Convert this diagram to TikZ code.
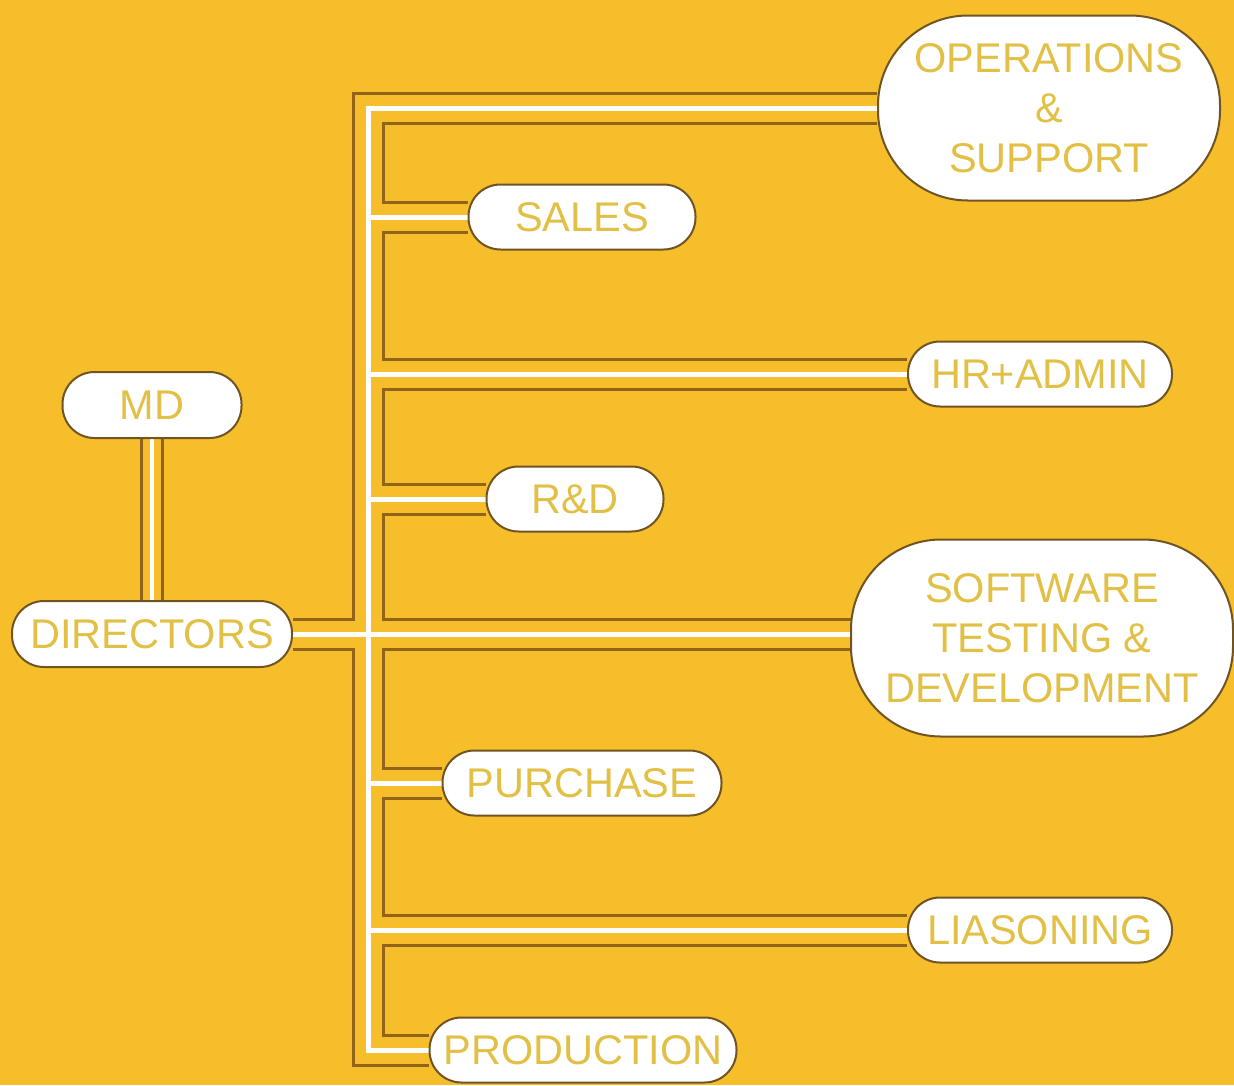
\documentclass[tikz,border=0pt]{standalone}
\usepackage{fontspec}
\setmainfont{Liberation Sans}
\usetikzlibrary{backgrounds}
\definecolor{bgyellow}{RGB}{245,190,42}
\definecolor{pipebrown}{RGB}{145,100,26}
\definecolor{boxbrown}{RGB}{112,84,36}
\definecolor{textyellow}{RGB}{226,192,70}

\begin{document}
\begin{tikzpicture}[x=1pt, y=-1pt,
		unit/.style={draw=boxbrown, line width=2pt, fill=white, rounded corners=32pt, minimum height=65pt, inner sep=0pt, text=textyellow, font=\fontsize{41.5}{50}\selectfont, align=center},
		bigunit/.style={unit, rounded corners=90pt},
		pipe/.style={draw=pipebrown, line width=33pt, line join=miter, postaction={draw=bgyellow, line width=27pt}, postaction={draw=white, line width=5pt}},
		minipipe/.style={draw=pipebrown, line width=24pt, postaction={draw=bgyellow, line width=18pt}, postaction={draw=white, line width=4pt}}]
	\useasboundingbox (0,0) rectangle (1234,1085);
	\node[unit, minimum width=179pt, minimum height=66pt] (md) at (152,405) {MD};
	\node[unit, minimum width=280pt, minimum height=66pt] (dir) at (152,634) {DIRECTORS};
	\node[bigunit, minimum width=342pt, minimum height=185pt] (ops) at (1049,108) {OPERATIONS\\\&\\SUPPORT};
	\node[bigunit, minimum width=382pt, minimum height=197pt] (soft) at (1042,638) {SOFTWARE\\TESTING \&\\DEVELOPMENT};
	\foreach \n/\x/\y/\w/\t in {sales/582/217/227/SALES, hr/1040/374/264/HR+ADMIN, rd/575/499/177/R\&D, purch/582/783/279/PURCHASE, lias/1040/930/264/LIASONING, prod/583/1050/307/PRODUCTION} {
		\node[unit, minimum width=\w pt] (\n) at (\x,\y) {\t};
	}
	\coordinate (trunk) at (368,0);
	\begin{pgfonlayer}{background}
		\fill[bgyellow] (0,0) rectangle (1234,1085);
		\draw[minipipe] (md) -- (dir);
		\draw[pipe] (ops) -- (ops -| trunk) -- (prod -| trunk) -- (prod)
			foreach \n in {sales, hr, rd, purch, lias} {(\n -| trunk) -- (\n)}
			(dir) -- (dir -| soft);
	\end{pgfonlayer}
\end{tikzpicture}
\end{document}
